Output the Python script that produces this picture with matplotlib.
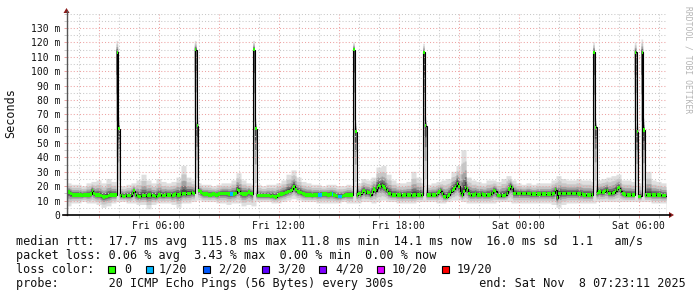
import numpy as np
import matplotlib
matplotlib.use('Agg')
import matplotlib.pyplot as plt
from matplotlib.patches import Rectangle, Polygon
from matplotlib.lines import Line2D
from matplotlib.ticker import FixedLocator

W, H = 697, 297
MONO = 'DejaVu Sans Mono'

# median rtt in ms, one row per hour, 12 samples of 300 s
MEDIAN = [
    [15, 16, 15, 14, 14, 14, 14, 14, 14, 13.5, 14, 14],
    [14, 14, 14.5, 17, 15, 14, 14, 14, 13.5, 13, 12.5, 13],
    [13, 13.5, 14, 14, 14, 14, 113, 60, 13.5, 13.5, 13, 13.5],
    [13.5, 13.5, 13.5, 15, 17, 14, 13.5, 13, 13, 13.5, 13.5, 13.5],
    [13.5, 14, 14, 13.5, 13.5, 13, 13, 14, 14, 13.5, 13.5, 14],
    [14, 14, 14, 13.5, 14, 14.5, 14, 14, 14.5, 14.5, 15, 14.5],
    [15, 15, 15, 15.5, 15, 115, 62, 17, 16, 15, 14.5, 14.5],
    [14.5, 14, 14, 14.5, 14.5, 14, 14, 14.5, 15, 15, 15, 15],
    [15, 14.5, 14.5, 14.5, 14.5, 15, 17.5, 17, 15, 14.5, 14.5, 14.5],
    [15, 16, 15, 14.5, 115, 60, 13.5, 13.5, 13.5, 13.5, 13.5, 13.5],
    [13.5, 13.5, 13, 13.5, 13, 12.5, 13.5, 14, 14.5, 14.5, 15, 15.5],
    [16, 16.5, 17, 18, 20, 17.5, 16.5, 16, 15.5, 15, 14.5, 14],
    [14, 14, 14, 13.5, 14, 14, 14, 14, 14, 14.5, 14.5, 14.5],
    [14, 14, 14.5, 14.5, 14, 13.5, 13, 13, 13, 13, 13.5, 14],
    [14, 14, 14, 14, 115, 58, 14, 15, 14.5, 16, 17, 15.5],
    [16, 15.5, 14, 16, 18, 17, 19, 20.5, 20, 20.5, 19.5, 18],
    [17, 15, 14.5, 14, 14, 14, 14, 14, 14, 13.5, 14, 14],
    [14, 14, 14, 13.5, 14, 14, 14, 14, 14, 14, 113, 62],
    [14, 14, 14, 14, 14, 14, 14.5, 16, 17, 15, 13, 12.5],
    [12.5, 14, 16, 17, 18, 20, 22, 20, 15, 14, 16.5, 19],
    [18, 15, 14, 14, 14, 14.5, 14, 14, 14, 14.5, 14, 14],
    [14, 14, 14.5, 15, 17, 16.5, 14, 13.5, 13.5, 13.5, 13.5, 14],
    [15, 18, 20, 19, 15, 15, 15, 15, 15, 15, 15, 15],
    [15, 15, 14.5, 14.5, 14.5, 14.5, 14.5, 14.5, 14.5, 14.5, 14.5, 14.5],
    [14.5, 14.5, 14.5, 14.5, 15, 17.5, 12, 15, 15, 15, 15, 15],
    [15, 15, 15, 15, 15, 15, 15, 14.5, 14.5, 14.5, 14, 14],
    [14, 14, 14, 14, 113, 61, 15, 16, 16, 15.5, 16, 17],
    [17, 15, 15, 15, 15.5, 17, 18, 19, 17, 15, 14.5, 14],
    [14, 14, 14, 14, 14, 113, 58, 13, 13, 113, 59, 14],
    [14, 14, 14, 14, 14, 14, 14, 14, 14, 13.5, 13.5, 13.5],
]

# smoke envelope (highest / lowest ping), 15 min resolution
SMOKE_HI = [22, 21, 21, 20, 22, 23, 24, 22, 25, 23,
            20, 20, 21, 22, 24, 28, 24, 22, 25, 23,
            22, 23, 26, 34, 26, 24, 22, 21, 21, 20,
            21, 22, 22, 24, 29, 24, 22, 21, 21, 20,
            21, 21, 22, 24, 28, 31, 26, 23, 22, 21,
            21, 20, 21, 21, 20, 20, 21, 20, 22, 25,
            24, 26, 33, 34, 28, 24, 22, 22, 23, 30,
            26, 22, 21, 22, 23, 24, 25, 30, 34, 45,
            26, 24, 23, 22, 24, 24, 23, 25, 27, 24,
            22, 21, 22, 21, 22, 22, 22, 24, 27, 25,
            24, 24, 25, 24, 24, 23, 24, 25, 26, 27,
            28, 24, 24, 23, 22, 22, 30, 24, 23, 22]
SMOKE_LO = [6, 8, 8, 9, 8, 8, 7, 5, 6, 8,
            9, 9, 8, 8, 7, 7, 4, 7, 8, 8,
            8, 7, 5, 8, 8, 9, 10, 9, 9, 9,
            8, 8, 7, 8, 8, 6, 7, 6, 9, 9,
            9, 8, 8, 9, 10, 11, 10, 9, 9, 9,
            8, 8, 8, 8, 8, 9, 8, 8, 8, 9,
            9, 8, 9, 10, 9, 9, 8, 8, 8, 8,
            9, 9, 9, 9, 8, 8, 9, 10, 10, 9,
            8, 8, 8, 8, 8, 8, 9, 9, 9, 8,
            8, 8, 8, 8, 8, 8, 8, 7, 5, 7,
            8, 8, 8, 8, 8, 8, 9, 9, 9, 9,
            9, 9, 9, 9, 9, 9, 9, 8, 8, 8]

# samples of the spikes and the top of their smoke
SPIKE_IDX = [30, 31, 77, 78, 112, 113, 172, 173, 214, 215, 316, 317, 341, 342, 345, 346]
SPIKE_HI = [121, 68, 121, 70, 121, 67, 120, 66, 119, 68, 120, 67, 120, 66, 122, 67]

# samples with 1/20 packet loss
LOSS_IDX = [98, 99, 151, 152, 159, 163, 164]

LOSS_COLOURS = ['#26ff00', '#00b8ff', '#0059ff', '#5e00ff', '#7e00ff', '#dd00ff', '#ff0000']
LOSS_LABELS = ['0', '1/20', '2/20', '3/20', '4/20', '10/20', '19/20']

TICK_HOURS = [6, 12, 18, 24, 30]
TICK_LABELS = ['Fri 06:00', 'Fri 12:00', 'Fri 18:00', 'Sat 00:00', 'Sat 06:00']
Y_TICKS = list(range(0, 140, 10))
Y_LABELS = ['0'] + ['%d m' % v for v in Y_TICKS[1:]]

T_END = 24 + 7 + 23 / 60 + 11 / 3600     # Sat 07:23:11, hours since Fri 00:00
STEP = 5 / 60

med = np.array(MEDIAN, dtype=float).ravel()
n = med.size
edges = T_END - STEP * n + np.arange(n + 1) * STEP
hi = np.repeat(np.array(SMOKE_HI, dtype=float), 3)
lo = np.repeat(np.array(SMOKE_LO, dtype=float), 3)
hi[SPIKE_IDX] = SPIKE_HI

fig = plt.figure(figsize=(W / 100, H / 100), dpi=100)
px = lambda x, y: (x / W, 1 - y / H)
ax = fig.add_axes([66.5 / W, 82 / H, 600 / W, 201.4 / H])
ax.set_xlim(edges[0], edges[-1])
ax.set_ylim(0, 140)
for s in ax.spines.values():
    s.set_visible(False)

# smoke, lighter further from the median
for f, c in zip([1.0, 0.7, 0.46, 0.28, 0.15],
                ['#dfdfdf', '#c6c6c6', '#a2a2a2', '#737373', '#454545']):
    ax.stairs(med + f * (hi - med), edges, baseline=med - f * (med - lo),
              fill=True, color=c, lw=0, zorder=1)

ax.stairs(med, edges, color='black', lw=0.8, zorder=3)
cols = [LOSS_COLOURS[0]] * n
for i in LOSS_IDX:
    cols[i] = LOSS_COLOURS[1]
ax.bar(edges[:-1], 2.3, width=STEP, bottom=med - 1.15, align='edge',
       color=cols, lw=0, zorder=4)

# grid
ax.xaxis.set_major_locator(FixedLocator(list(range(3, 32, 3))))
ax.xaxis.set_minor_locator(FixedLocator(list(range(2, 32))))
ax.set_xticklabels([TICK_LABELS[TICK_HOURS.index(h)] if h in TICK_HOURS else ''
                    for h in range(3, 32, 3)])
ax.yaxis.set_major_locator(FixedLocator(Y_TICKS))
ax.yaxis.set_minor_locator(FixedLocator(list(range(5, 140, 10)) + [140]))
ax.set_yticklabels(Y_LABELS)
ax.set_axisbelow('line')
ax.grid(which='major', color='#eda3a3', lw=0.75, ls=(0, (1, 2)))
ax.grid(which='minor', color='#c8c8c8', lw=0.75, ls=(0, (1, 2)))
ax.tick_params(which='major', length=2, width=0.7, color='#eda3a3', pad=2.5,
               labelsize=7, labelcolor='#111111')
ax.tick_params(which='minor', length=2, width=0.7, color='#c8c8c8')
for t in ax.get_xticklabels() + ax.get_yticklabels():
    t.set_family(MONO)

# axes with arrows
fig.add_artist(Line2D([66.5 / W, 66.5 / W], [1 - 215 / H, 1 - 11 / H], color='#555555', lw=1))
fig.add_artist(Line2D([63 / W, 670 / W], [1 - 215 / H, 1 - 215 / H], color='black', lw=1.2))
fig.add_artist(Polygon([px(63.5, 13), px(69.5, 13), px(66.5, 8)], closed=True,
                       transform=fig.transFigure, color='#8b1a1a', lw=0))
fig.add_artist(Polygon([px(669, 212), px(669, 218), px(674, 215)], closed=True,
                       transform=fig.transFigure, color='#8b1a1a', lw=0))

fig.text(*px(11, 113), 'Seconds', rotation=90, ha='center', va='center',
         family=MONO, fontsize=8.5, color='#111111')
fig.text(*px(688, 60), 'RRDTOOL / TOBI OETIKER', rotation=270, ha='center', va='center',
         family=MONO, fontsize=5.8, color='#b4b4b4')

lines = [
    'median rtt:  17.7 ms avg  115.8 ms max  11.8 ms min  14.1 ms now  16.0 ms sd  1.1   am/s',
    'packet loss: 0.06 % avg  3.43 % max  0.00 % min  0.00 % now',
    'loss color:',
    'probe:       20 ICMP Echo Pings (56 Bytes) every 300s            end: Sat Nov  8 07:23:11 2025',
]
for k, s in enumerate(lines):
    fig.text(*px(16, 241 + 14.2 * k), s, ha='left', va='center', family=MONO,
             fontsize=8.5, color='#111111')

sq_x = [108, 146, 203, 262, 319, 377, 442]
lab_x = [124, 159, 218, 277, 335, 392, 457]
for c, lab, x, xl in zip(LOSS_COLOURS, LOSS_LABELS, sq_x, lab_x):
    fig.add_artist(Rectangle(px(x, 273), 7 / W, 7 / H, transform=fig.transFigure,
                             facecolor=c, edgecolor='black', lw=0.8))
    fig.text(*px(xl, 269.4), lab, ha='left', va='center', family=MONO,
             fontsize=8.5, color='#111111')

fig.savefig('out.png', dpi=100, facecolor='white')
